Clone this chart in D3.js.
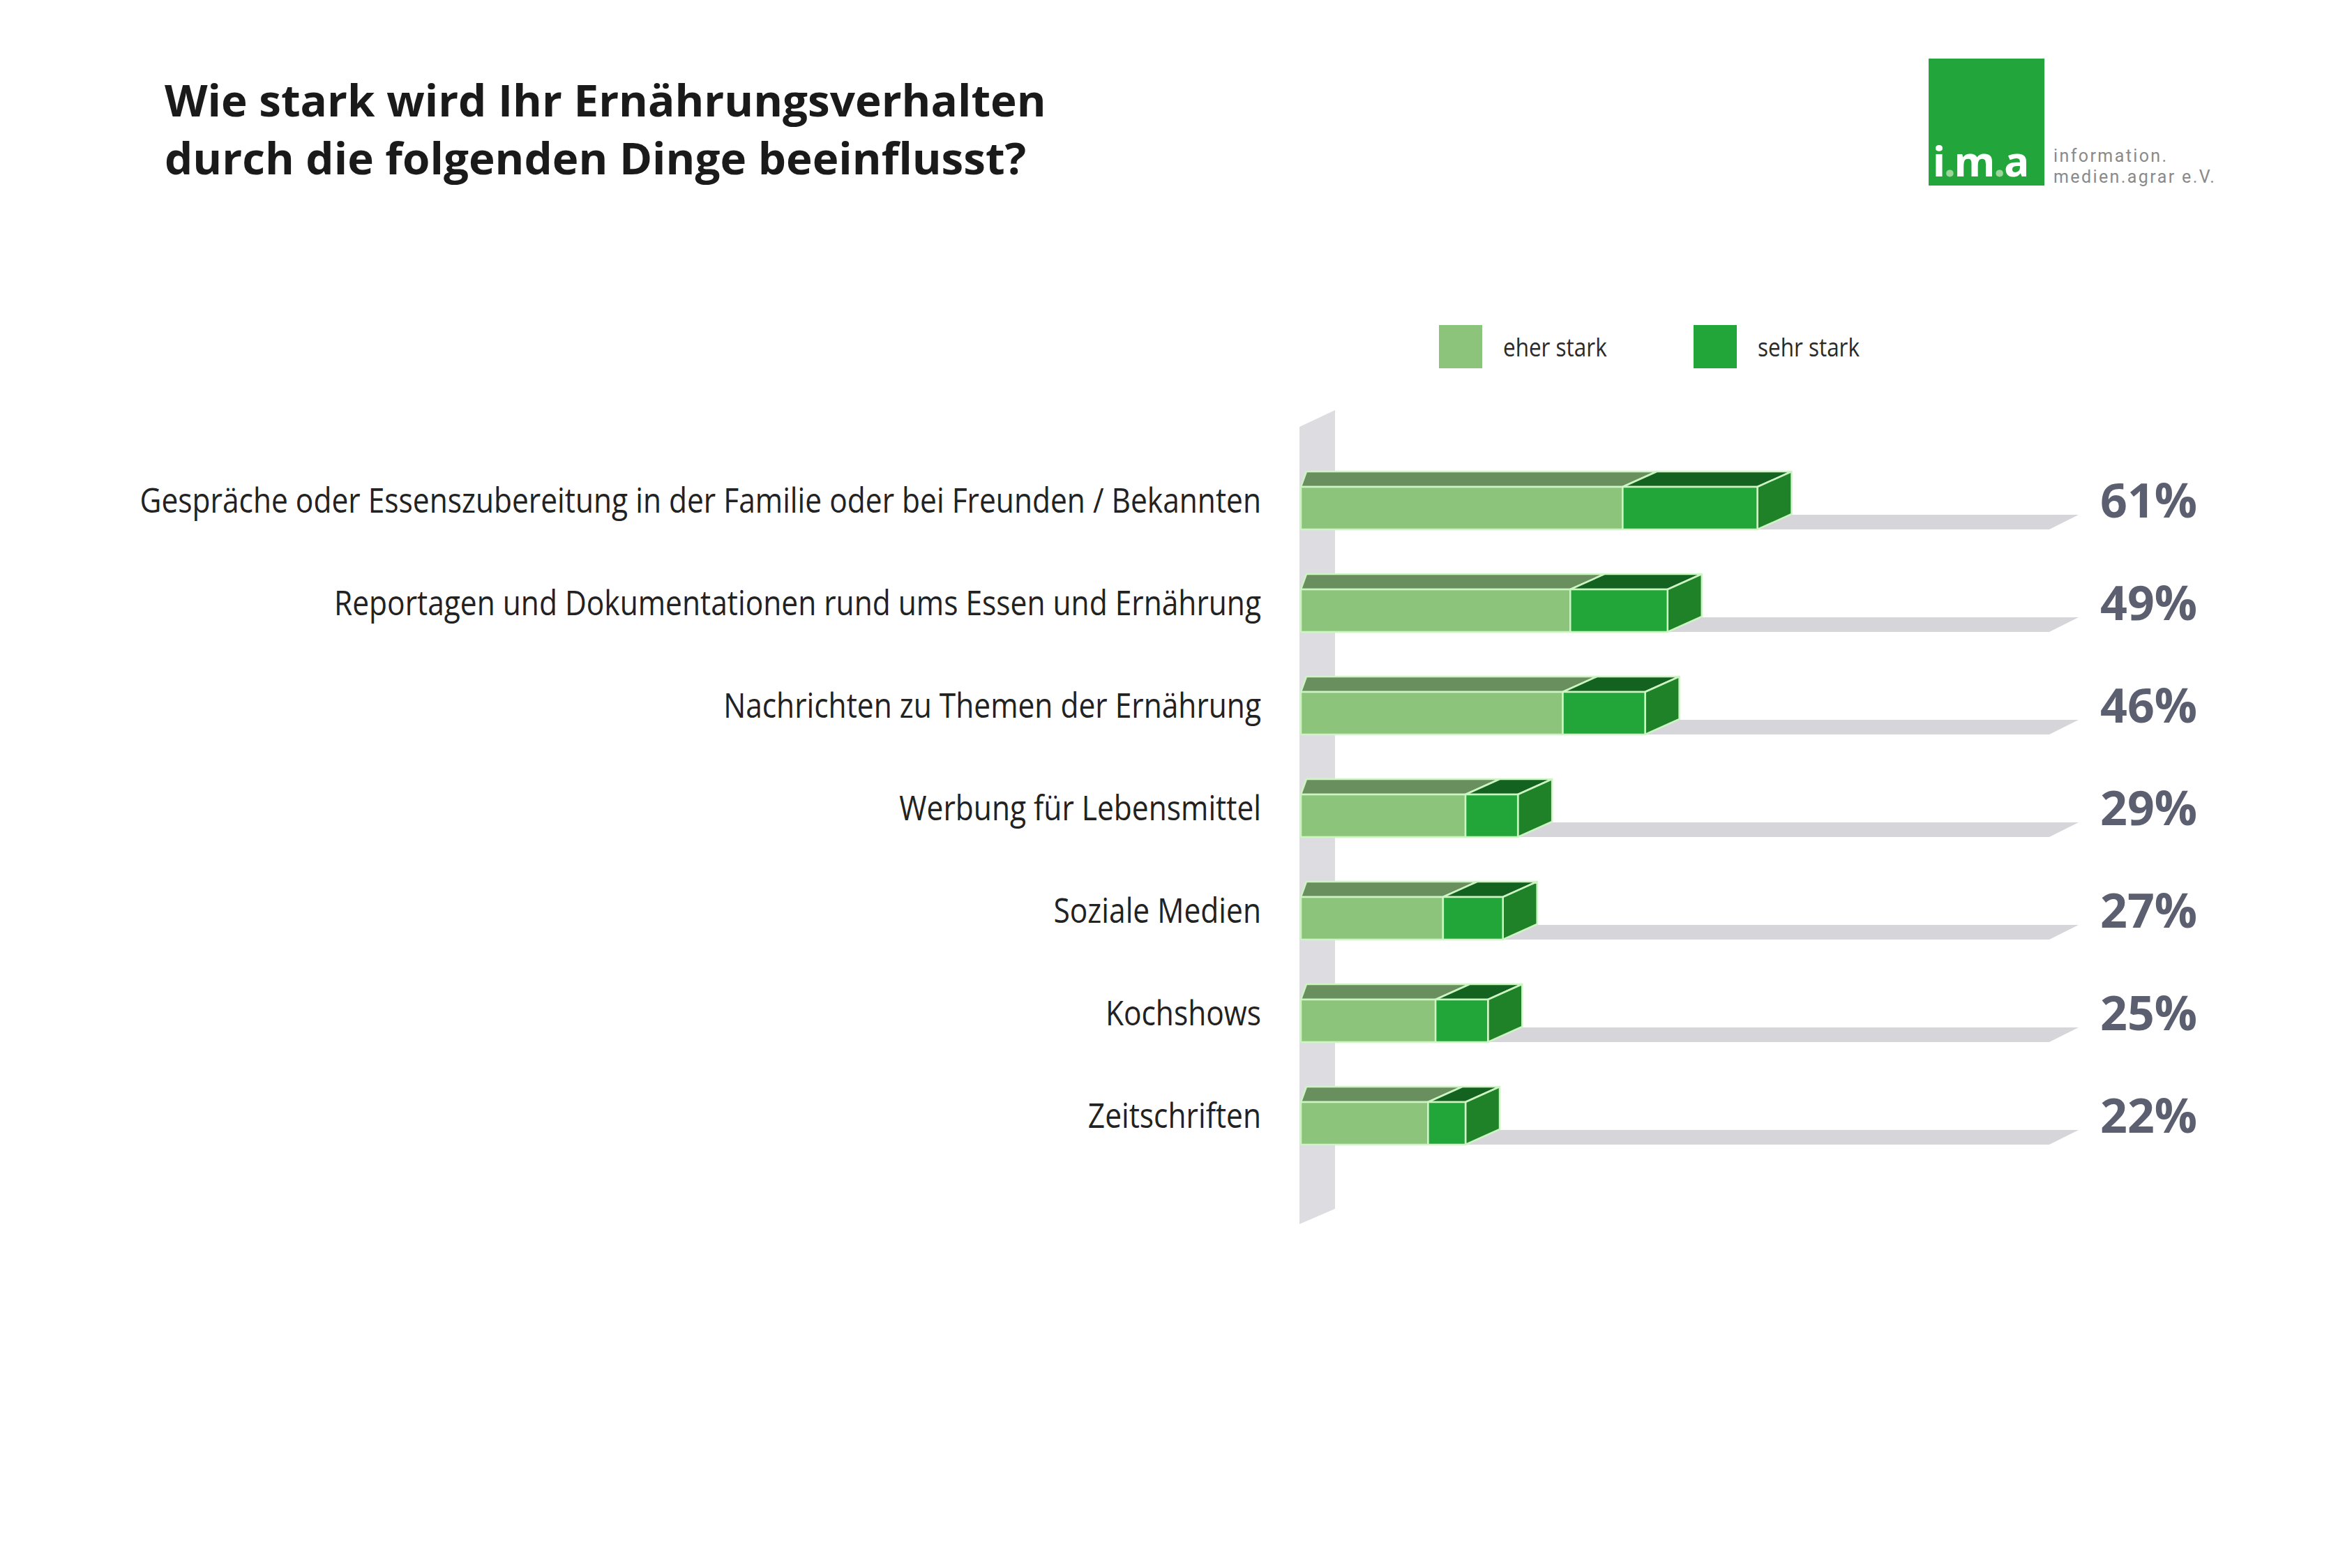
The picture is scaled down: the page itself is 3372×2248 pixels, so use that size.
<!DOCTYPE html>
<html lang="de">
<head>
<meta charset="utf-8">
<script src="https://cdn.jsdelivr.net/npm/d3@7"></script>
<style>
  html, body { margin: 0; padding: 0; background: #fff; }
  svg { display: block; }
</style>
</head>
<body>
<svg id="chart"></svg>
<script>
// data
const categories = [
  'Gespräche oder Essenszubereitung in der Familie oder bei Freunden / Bekannten',
  'Reportagen und Dokumentationen rund ums Essen und Ernährung',
  'Nachrichten zu Themen der Ernährung',
  'Werbung für Lebensmittel',
  'Soziale Medien',
  'Kochshows',
  'Zeitschriften'
];
const eherStark = [43, 36, 35, 22, 19, 18, 17];
const sehrStark = [18, 13, 11, 7, 8, 7, 5];
const totals = [61, 49, 46, 29, 27, 25, 22];
const seriesNames = ['eher stark', 'sehr stark'];
const titleLines = ['Wie stark wird Ihr Ernährungsverhalten', 'durch die folgenden Dinge beeinflusst?'];

const width = 3372;
const height = 2248;

const svg = d3.select('#chart')
  .attr('width', width)
  .attr('height', height)
  .attr('viewBox', [0, 0, width, height]);

const col = {
  lightFront: '#8dc47b',
  lightTop: '#698f5e',
  darkFront: '#22a539',
  darkTop: '#14621f',
  darkSide: '#1f8229',
  edge: '#cdf5c4',
  wall: '#dcdce1',
  shadow: '#d6d5da',
  label: '#222',
  pct: '#5c5f70'
};

// 3d depth of bars
const dx = 49, dy = 22;
const barH = 61, step = 147, yTop0 = 698;

const x = d3.scaleLinear().domain([0, 100]).range([1865, 2938]);
const y = d3.scaleBand()
  .domain(categories)
  .range([yTop0, yTop0 + step * categories.length - (step - barH)])
  .paddingInner(1 - barH / step)
  .paddingOuter(0);

const rows = categories.map((c, i) => ({ cat: c, a: eherStark[i], b: sehrStark[i], total: totals[i] }));

const poly = pts => 'M' + pts.map(p => p.join(',')).join('L') + 'Z';

// title
const title = svg.append('g').attr('transform', 'translate(236,0)');
title.selectAll('text')
  .data(titleLines)
  .join('text')
  .attr('y', (d, i) => 167 + i * 83)
  .attr('font-family', 'Open Sans')
  .attr('font-weight', 700)
  .attr('font-size', 63)
  .attr('fill', '#1a1a1a')
  .text(d => d);
const tw = title.select('text').node().getComputedTextLength();
title.attr('transform', `translate(236,0) scale(${1264 / tw},1)`);

// logo
const logo = svg.append('g');
logo.append('rect').attr('x', 2765).attr('y', 84).attr('width', 166).attr('height', 182).attr('fill', '#22a53a');
logo.append('text').attr('x', 2771).attr('y', 253)
  .attr('font-family', 'Noto Sans').attr('font-weight', 700).attr('font-size', 60)
  .attr('letter-spacing', -2)
  .selectAll('tspan')
  .data(['i', '.', 'm', '.', 'a'])
  .join('tspan')
  .attr('fill', d => d === '.' ? '#9ad69a' : '#fff')
  .text(d => d);
logo.selectAll('text.sub')
  .data(['information.', 'medien.agrar e.V.'])
  .join('text')
  .attr('class', 'sub')
  .attr('x', 2944)
  .attr('y', (d, i) => 232 + i * 30)
  .attr('font-family', 'Roboto')
  .attr('font-size', 25)
  .attr('letter-spacing', 2.4)
  .attr('fill', '#8a8a8a')
  .text(d => d);

// back wall
const wallX0 = x(0) - 2, wallX1 = x(0) + dx;
const wallTop = y(categories[0]) - dy - 64;
const wallBot = y(categories[categories.length - 1]) + barH + 114;
svg.append('path')
  .attr('d', poly([[wallX0, wallTop], [wallX1, wallTop - 24], [wallX1, wallBot - 22], [wallX0, wallBot]]))
  .attr('fill', col.wall);

// floor shadows
svg.append('g').selectAll('path')
  .data(rows)
  .join('path')
  .attr('d', d => {
    const yb = y(d.cat) + barH;
    return poly([[x(0), yb], [x(100), yb], [x(100) + 42, yb - 21], [x(0) + 42, yb - 21]]);
  })
  .attr('fill', col.shadow);

// bars
const bars = svg.append('g')
  .attr('stroke', col.edge)
  .attr('stroke-width', 2.5)
  .attr('stroke-linejoin', 'round')
  .selectAll('g')
  .data(rows)
  .join('g');

bars.append('path')
  .attr('d', d => {
    const yt = y(d.cat), x0 = x(0), xm = x(d.a);
    return poly([[x0, yt], [x0 + 8, yt - dy], [xm + dx, yt - dy], [xm, yt]]);
  })
  .attr('fill', col.lightTop);

bars.append('path')
  .attr('d', d => {
    const yt = y(d.cat), xm = x(d.a), x1 = x(d.a + d.b);
    return poly([[xm, yt], [xm + dx, yt - dy], [x1 + dx, yt - dy], [x1, yt]]);
  })
  .attr('fill', col.darkTop);

bars.append('path')
  .attr('d', d => {
    const yt = y(d.cat), x1 = x(d.a + d.b);
    return poly([[x1, yt], [x1 + dx, yt - dy], [x1 + dx, yt + barH - dy], [x1, yt + barH]]);
  })
  .attr('fill', col.darkSide);

bars.append('rect')
  .attr('x', x(0))
  .attr('y', d => y(d.cat))
  .attr('width', d => x(d.a) - x(0))
  .attr('height', barH)
  .attr('fill', col.lightFront);

bars.append('rect')
  .attr('x', d => x(d.a))
  .attr('y', d => y(d.cat))
  .attr('width', d => x(d.a + d.b) - x(d.a))
  .attr('height', barH)
  .attr('fill', col.darkFront);

// category labels (condensed look)
const labels = svg.append('g').selectAll('text')
  .data(rows)
  .join('text')
  .attr('text-anchor', 'end')
  .attr('font-family', 'Open Sans')
  .attr('font-size', 50)
  .attr('fill', col.label)
  .text(d => d.cat);
const k = 1608 / labels.node().getComputedTextLength();
labels.attr('transform', d => `translate(1808,${y(d.cat) + (barH - dy) / 2 + 17}) scale(${k},1)`);

// percent values
svg.append('g').selectAll('text')
  .data(rows)
  .join('text')
  .attr('x', 3011)
  .attr('y', d => y(d.cat) + (barH - dy) / 2 + 24)
  .attr('font-family', 'Open Sans')
  .attr('font-weight', 700)
  .attr('font-size', 68)
  .attr('fill', col.pct)
  .text(d => d.total + '%');

// legend
const legend = svg.append('g').selectAll('g')
  .data(seriesNames)
  .join('g')
  .attr('transform', (d, i) => `translate(${2063 + i * 365},466)`);
legend.append('rect')
  .attr('width', 62).attr('height', 62)
  .attr('fill', (d, i) => i ? col.darkFront : col.lightFront);
legend.append('text')
  .attr('transform', `translate(92,45) scale(${k},1)`)
  .attr('font-family', 'Open Sans')
  .attr('font-size', 37)
  .attr('fill', '#2a2a2a')
  .text(d => d);
</script>
</body>
</html>
